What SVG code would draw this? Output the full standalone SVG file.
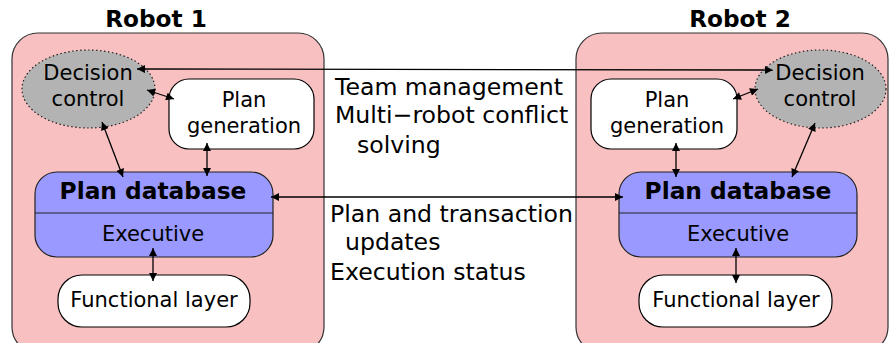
<svg xmlns="http://www.w3.org/2000/svg" width="889" height="343" viewBox="0 0 889 343">
  <style>
    text { font-family: "DejaVu Sans", "Liberation Sans", sans-serif; fill: #000; }
    .title { font-size: 23.2px; font-weight: bold; text-anchor: middle; }
    .lbl { font-size: 21px; text-anchor: middle; }
    .bold { font-size: 23.3px; font-weight: bold; text-anchor: middle; }
    .mid { font-size: 23.6px; }
    .robot { fill: #f8c0c0; stroke: #333; stroke-width: 1.2; }
    .dec { fill: #b3b3b3; stroke: #222; stroke-width: 1.2; stroke-dasharray: 1.5 2.5; }
    .box { fill: #fff; stroke: #000; stroke-width: 1.2; }
    .db { fill: #9999ff; stroke: #222; stroke-width: 1.2; }
    .sep { stroke: #222; stroke-width: 1.2; }
    .conn { stroke: #000; stroke-width: 1.3; fill: none; marker-start: url(#ah); marker-end: url(#ah); }
  </style>
  <defs>
    <marker id="ah" viewBox="0 0 10 10" refX="10" refY="5" markerWidth="9" markerHeight="8" markerUnits="userSpaceOnUse" orient="auto-start-reverse">
      <path d="M0,0 L10,5 L0,10 z" fill="#000"/>
    </marker>
  </defs>

  <!-- Robot 1 -->
  <g id="robot1">
    <rect class="robot" x="12" y="33" width="312" height="320" rx="26"/>
    <text class="title" x="156" y="27">Robot 1</text>
  </g>
  <g id="r1-decision">
    <ellipse class="dec" cx="88.5" cy="89" rx="66.5" ry="39"/>
    <text class="lbl" x="88" y="80">Decision</text>
    <text class="lbl" x="88" y="106">control</text>
  </g>
  <g id="r1-plangen">
    <rect class="box" x="169" y="79" width="145" height="70" rx="20"/>
    <text class="lbl" x="244" y="107">Plan</text>
    <text class="lbl" x="244" y="133">generation</text>
  </g>
  <g id="r1-plandb">
    <rect class="db" x="35" y="172" width="238" height="85" rx="22"/>
    <line class="sep" x1="35" y1="213" x2="273" y2="213"/>
    <text class="bold" x="153" y="199">Plan database</text>
    <text class="lbl" x="153" y="241">Executive</text>
  </g>
  <g id="r1-functional">
    <rect class="box" x="58" y="275" width="192" height="52" rx="24"/>
    <text class="lbl" x="154" y="307">Functional layer</text>
  </g>

  <!-- Robot 2 -->
  <g id="robot2">
    <rect class="robot" x="576" y="33" width="312" height="320" rx="26"/>
    <text class="title" x="740" y="27">Robot 2</text>
  </g>
  <g id="r2-decision">
    <ellipse class="dec" cx="820.5" cy="89" rx="65.5" ry="39"/>
    <text class="lbl" x="820" y="80">Decision</text>
    <text class="lbl" x="820" y="106">control</text>
  </g>
  <g id="r2-plangen">
    <rect class="box" x="591" y="79" width="146" height="70" rx="20"/>
    <text class="lbl" x="667" y="107">Plan</text>
    <text class="lbl" x="667" y="133">generation</text>
  </g>
  <g id="r2-plandb">
    <rect class="db" x="619" y="172" width="238" height="85" rx="22"/>
    <line class="sep" x1="619" y1="213" x2="857" y2="213"/>
    <text class="bold" x="738" y="199">Plan database</text>
    <text class="lbl" x="738" y="241">Executive</text>
  </g>
  <g id="r2-functional">
    <rect class="box" x="639" y="275" width="193" height="52" rx="24"/>
    <text class="lbl" x="736" y="307">Functional layer</text>
  </g>

  <!-- Inter-robot labels -->
  <g id="labels">
    <text class="mid" x="335" y="95">Team management</text>
    <text class="mid" x="335" y="123">Multi−robot conflict</text>
    <text class="mid" x="357" y="153">solving</text>
    <text class="mid" x="330" y="222">Plan and transaction</text>
    <text class="mid" x="345" y="250">updates</text>
    <text class="mid" x="330" y="280">Execution status</text>
  </g>

  <!-- Connectors -->
  <g id="connectors">
    <line class="conn" x1="137" y1="69" x2="773" y2="70"/>
    <line class="conn" x1="271" y1="197" x2="623" y2="197"/>
    <line class="conn" x1="147" y1="90" x2="174" y2="99"/>
    <line class="conn" x1="102" y1="122" x2="123" y2="177"/>
    <line class="conn" x1="207" y1="143" x2="207" y2="176"/>
    <line class="conn" x1="153" y1="248" x2="153" y2="281"/>
    <line class="conn" x1="758" y1="89" x2="733" y2="99"/>
    <line class="conn" x1="815" y1="123" x2="792" y2="177"/>
    <line class="conn" x1="676" y1="143" x2="676" y2="177"/>
    <line class="conn" x1="736" y1="248" x2="736" y2="283"/>
  </g>
</svg>
